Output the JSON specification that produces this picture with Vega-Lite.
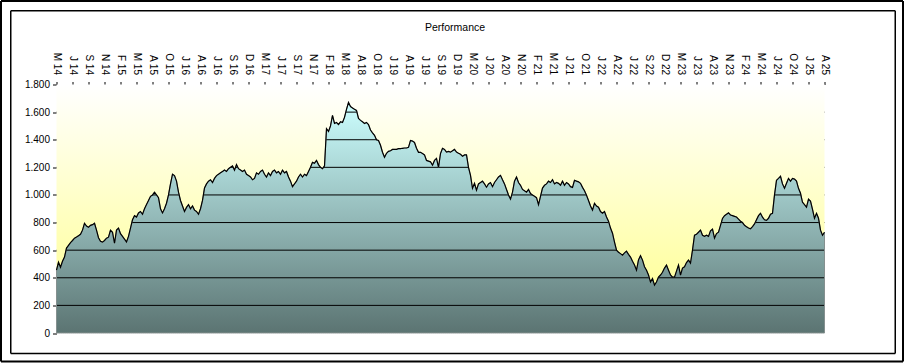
{
  "$schema": "https://vega.github.io/schema/vega-lite/v6.json",
  "autosize": {"type": "none"},
  "width": 768,
  "height": 248.5,
  "padding": {"left": 56.5, "top": 84.5, "right": 81.5, "bottom": 30},
  "background": "white",
  "title": {"text": "Performance", "font": "Liberation Sans", "fontSize": 10.5, "fontWeight": "normal", "color": "black", "anchor": "middle", "frame": "bounds", "baseline": "alphabetic", "offset": -41.5, "dx": 3},
  "config": {
    "view": {"stroke": null},
    "axis": {"labelFont": "Liberation Sans", "labelFontSize": 10, "labelColor": "black", "tickColor": "black", "tickWidth": 1, "domain": false, "grid": false, "title": null, "labelOverlap": false, "labelFlush": false, "labelBound": false}
  },
  "datasets": {
    "perf": [
{"n":0,"v":455},{"n":1,"v":513},{"n":2,"v":477},{"n":3,"v":520},{"n":4,"v":550},{"n":5,"v":615},{"n":6,"v":635},{"n":7,"v":655},{"n":8,"v":670},{"n":9,"v":687},
{"n":10,"v":695},{"n":11,"v":705},{"n":12,"v":715},{"n":13,"v":745},{"n":14,"v":795},{"n":15,"v":775},{"n":16,"v":766},{"n":17,"v":780},{"n":18,"v":785},{"n":19,"v":795},
{"n":20,"v":745},{"n":21,"v":690},{"n":22,"v":665},{"n":23,"v":658},{"n":24,"v":670},{"n":25,"v":687},{"n":26,"v":694},{"n":27,"v":745},{"n":28,"v":730},{"n":29,"v":650},
{"n":30,"v":745},{"n":31,"v":760},{"n":32,"v":720},{"n":33,"v":700},{"n":34,"v":680},{"n":35,"v":660},{"n":36,"v":700},{"n":37,"v":760},{"n":38,"v":820},{"n":39,"v":850},
{"n":40,"v":840},{"n":41,"v":870},{"n":42,"v":880},{"n":43,"v":860},{"n":44,"v":900},{"n":45,"v":930},{"n":46,"v":960},{"n":47,"v":990},{"n":48,"v":1000},{"n":49,"v":1020},
{"n":50,"v":1000},{"n":51,"v":980},{"n":52,"v":900},{"n":53,"v":870},{"n":54,"v":900},{"n":55,"v":940},{"n":56,"v":1000},{"n":57,"v":1080},{"n":58,"v":1150},{"n":59,"v":1140},
{"n":60,"v":1100},{"n":61,"v":1020},{"n":62,"v":960},{"n":63,"v":920},{"n":64,"v":880},{"n":65,"v":910},{"n":66,"v":930},{"n":67,"v":900},{"n":68,"v":920},{"n":69,"v":890},
{"n":70,"v":880},{"n":71,"v":860},{"n":72,"v":900},{"n":73,"v":960},{"n":74,"v":1050},{"n":75,"v":1080},{"n":76,"v":1100},{"n":77,"v":1110},{"n":78,"v":1090},{"n":79,"v":1120},
{"n":80,"v":1140},{"n":81,"v":1150},{"n":82,"v":1160},{"n":83,"v":1170},{"n":84,"v":1180},{"n":85,"v":1170},{"n":86,"v":1190},{"n":87,"v":1200},{"n":88,"v":1210},{"n":89,"v":1180},
{"n":90,"v":1220},{"n":91,"v":1190},{"n":92,"v":1180},{"n":93,"v":1170},{"n":94,"v":1180},{"n":95,"v":1150},{"n":96,"v":1140},{"n":97,"v":1130},{"n":98,"v":1110},{"n":99,"v":1120},
{"n":100,"v":1160},{"n":101,"v":1150},{"n":102,"v":1170},{"n":103,"v":1180},{"n":104,"v":1150},{"n":105,"v":1130},{"n":106,"v":1160},{"n":107,"v":1140},{"n":108,"v":1170},{"n":109,"v":1180},
{"n":110,"v":1160},{"n":111,"v":1170},{"n":112,"v":1150},{"n":113,"v":1180},{"n":114,"v":1160},{"n":115,"v":1170},{"n":116,"v":1130},{"n":117,"v":1100},{"n":118,"v":1060},{"n":119,"v":1080},
{"n":120,"v":1100},{"n":121,"v":1130},{"n":122,"v":1150},{"n":123,"v":1130},{"n":124,"v":1150},{"n":125,"v":1140},{"n":126,"v":1170},{"n":127,"v":1200},{"n":128,"v":1236},{"n":129,"v":1230},
{"n":130,"v":1250},{"n":131,"v":1220},{"n":132,"v":1200},{"n":133,"v":1190},{"n":134,"v":1210},{"n":135,"v":1480},{"n":136,"v":1460},{"n":137,"v":1500},{"n":138,"v":1576},{"n":139,"v":1518},
{"n":140,"v":1525},{"n":141,"v":1510},{"n":142,"v":1530},{"n":143,"v":1525},{"n":144,"v":1562},{"n":145,"v":1620},{"n":146,"v":1670},{"n":147,"v":1640},{"n":148,"v":1630},{"n":149,"v":1620},
{"n":150,"v":1612},{"n":151,"v":1554},{"n":152,"v":1540},{"n":153,"v":1530},{"n":154,"v":1518},{"n":155,"v":1525},{"n":156,"v":1510},{"n":157,"v":1470},{"n":158,"v":1450},{"n":159,"v":1432},
{"n":160,"v":1400},{"n":161,"v":1395},{"n":162,"v":1360},{"n":163,"v":1309},{"n":164,"v":1273},{"n":165,"v":1302},{"n":166,"v":1316},{"n":167,"v":1320},{"n":168,"v":1330},{"n":169,"v":1330},
{"n":170,"v":1330},{"n":171,"v":1335},{"n":172,"v":1335},{"n":173,"v":1338},{"n":174,"v":1340},{"n":175,"v":1340},{"n":176,"v":1345},{"n":177,"v":1395},{"n":178,"v":1390},{"n":179,"v":1380},
{"n":180,"v":1338},{"n":181,"v":1309},{"n":182,"v":1309},{"n":183,"v":1300},{"n":184,"v":1290},{"n":185,"v":1250},{"n":186,"v":1245},{"n":187,"v":1240},{"n":188,"v":1215},{"n":189,"v":1250},
{"n":190,"v":1265},{"n":191,"v":1200},{"n":192,"v":1300},{"n":193,"v":1338},{"n":194,"v":1330},{"n":195,"v":1310},{"n":196,"v":1315},{"n":197,"v":1310},{"n":198,"v":1320},{"n":199,"v":1330},
{"n":200,"v":1310},{"n":201,"v":1302},{"n":202,"v":1295},{"n":203,"v":1280},{"n":204,"v":1290},{"n":205,"v":1290},{"n":206,"v":1200},{"n":207,"v":1142},{"n":208,"v":1048},{"n":209,"v":1084},
{"n":210,"v":1034},{"n":211,"v":1080},{"n":212,"v":1090},{"n":213,"v":1100},{"n":214,"v":1080},{"n":215,"v":1056},{"n":216,"v":1080},{"n":217,"v":1090},{"n":218,"v":1060},{"n":219,"v":1090},
{"n":220,"v":1110},{"n":221,"v":1130},{"n":222,"v":1142},{"n":223,"v":1110},{"n":224,"v":1080},{"n":225,"v":1040},{"n":226,"v":1000},{"n":227,"v":970},{"n":228,"v":1020},{"n":229,"v":1100},
{"n":230,"v":1130},{"n":231,"v":1090},{"n":232,"v":1070},{"n":233,"v":1040},{"n":234,"v":1030},{"n":235,"v":1020},{"n":236,"v":1040},{"n":237,"v":1010},{"n":238,"v":1000},{"n":239,"v":990},
{"n":240,"v":980},{"n":241,"v":930},{"n":242,"v":990},{"n":243,"v":1050},{"n":244,"v":1070},{"n":245,"v":1080},{"n":246,"v":1100},{"n":247,"v":1090},{"n":248,"v":1110},{"n":249,"v":1080},
{"n":250,"v":1090},{"n":251,"v":1084},{"n":252,"v":1070},{"n":253,"v":1100},{"n":254,"v":1070},{"n":255,"v":1090},{"n":256,"v":1080},{"n":257,"v":1060},{"n":258,"v":1055},{"n":259,"v":1106},
{"n":260,"v":1100},{"n":261,"v":1095},{"n":262,"v":1084},{"n":263,"v":1055},{"n":264,"v":1030},{"n":265,"v":998},{"n":266,"v":960},{"n":267,"v":920},{"n":268,"v":890},{"n":269,"v":940},
{"n":270,"v":920},{"n":271,"v":911},{"n":272,"v":880},{"n":273,"v":867},{"n":274,"v":880},{"n":275,"v":840},{"n":276,"v":810},{"n":277,"v":760},{"n":278,"v":723},{"n":279,"v":658},
{"n":280,"v":600},{"n":281,"v":585},{"n":282,"v":575},{"n":283,"v":564},{"n":284,"v":580},{"n":285,"v":593},{"n":286,"v":570},{"n":287,"v":550},{"n":288,"v":520},{"n":289,"v":492},
{"n":290,"v":455},{"n":291,"v":530},{"n":292,"v":560},{"n":293,"v":528},{"n":294,"v":480},{"n":295,"v":455},{"n":296,"v":420},{"n":297,"v":369},{"n":298,"v":395},{"n":299,"v":347},
{"n":300,"v":369},{"n":301,"v":405},{"n":302,"v":420},{"n":303,"v":440},{"n":304,"v":470},{"n":305,"v":492},{"n":306,"v":455},{"n":307,"v":420},{"n":308,"v":405},{"n":309,"v":405},
{"n":310,"v":448},{"n":311,"v":492},{"n":312,"v":419},{"n":313,"v":470},{"n":314,"v":480},{"n":315,"v":510},{"n":316,"v":528},{"n":317,"v":506},{"n":318,"v":600},{"n":319,"v":708},
{"n":320,"v":715},{"n":321,"v":730},{"n":322,"v":745},{"n":323,"v":708},{"n":324,"v":700},{"n":325,"v":708},{"n":326,"v":700},{"n":327,"v":740},{"n":328,"v":752},{"n":329,"v":687},
{"n":330,"v":720},{"n":331,"v":730},{"n":332,"v":780},{"n":333,"v":830},{"n":334,"v":850},{"n":335,"v":860},{"n":336,"v":870},{"n":337,"v":855},{"n":338,"v":850},{"n":339,"v":845},
{"n":340,"v":840},{"n":341,"v":825},{"n":342,"v":810},{"n":343,"v":800},{"n":344,"v":780},{"n":345,"v":770},{"n":346,"v":760},{"n":347,"v":755},{"n":348,"v":770},{"n":349,"v":790},
{"n":350,"v":820},{"n":351,"v":850},{"n":352,"v":867},{"n":353,"v":839},{"n":354,"v":820},{"n":355,"v":816},{"n":356,"v":831},{"n":357,"v":860},{"n":358,"v":867},{"n":359,"v":1000},
{"n":360,"v":1106},{"n":361,"v":1120},{"n":362,"v":1135},{"n":363,"v":1080},{"n":364,"v":1048},{"n":365,"v":1084},{"n":366,"v":1120},{"n":367,"v":1100},{"n":368,"v":1120},{"n":369,"v":1115},
{"n":370,"v":1100},{"n":371,"v":1048},{"n":372,"v":1012},{"n":373,"v":947},{"n":374,"v":930},{"n":375,"v":911},{"n":376,"v":969},{"n":377,"v":955},{"n":378,"v":896},{"n":379,"v":831},
{"n":380,"v":867},{"n":381,"v":831},{"n":382,"v":745},{"n":383,"v":708},{"n":384,"v":730}
    ],
    "grid": [{"g":200},{"g":400},{"g":600},{"g":800},{"g":1000},{"g":1200},{"g":1400},{"g":1600}],
    "frames": [
      {"x1": -27.75, "x2": 423.25, "y1": 2404.8, "y2": 2404.8, "w": "outer"},
      {"x1": -27.75, "x2": 423.25, "y1": -206.4, "y2": -206.4, "w": "outer"},
      {"x1": -27.75, "x2": -27.75, "y1": -206.4, "y2": 2404.8, "w": "outer"},
      {"x1": 423.25, "x2": 423.25, "y1": -206.4, "y2": 2404.8, "w": "outer"},
      {"x1": -22.875, "x2": 419.375, "y1": 2334.2, "y2": 2334.2, "w": "inner"},
      {"x1": -22.875, "x2": 419.375, "y1": -148.5, "y2": -148.5, "w": "inner"},
      {"x1": -22.875, "x2": -22.875, "y1": -148.5, "y2": 2334.2, "w": "inner"},
      {"x1": 419.375, "x2": 419.375, "y1": -148.5, "y2": 2334.2, "w": "inner"}
    ]
  },
  "encoding": {
    "x": {"field": "n", "type": "quantitative",
      "scale": {"domain": [0, 384], "nice": false, "zero": false},
      "axis": {"orient": "top", "values": [0,8,16,24,32,40,48,56,64,72,80,88,96,104,112,120,128,136,144,152,160,168,176,184,192,200,208,216,224,232,240,248,256,264,272,280,288,296,304,312,320,328,336,344,352,360,368,376,384],
        "labelExpr": "['M 14','J 14','S 14','N 14','F 15','M 15','A 15','O 15','J 16','A 16','J 16','S 16','D 16','M 17','J 17','S 17','N 17','F 18','M 18','A 18','O 18','J 19','A 19','J 19','S 19','D 19','M 20','J 20','A 20','N 20','F 21','M 21','J 21','O 21','J 22','A 22','J 22','S 22','D 22','M 23','J 23','A 23','N 23','F 24','M 24','J 24','O 24','J 25','A 25'][datum.value / 8]",
        "labelAngle": 90, "labelAlign": "right", "labelBaseline": "middle", "tickSize": 3, "labelPadding": 7}},
    "y": {"field": "v", "type": "quantitative",
      "scale": {"domain": [0, 1800], "nice": false, "zero": true},
      "axis": {"orient": "left", "values": [0,200,400,600,800,1000,1200,1400,1600,1800],
        "labelExpr": "replace(format(datum.value, ','), ',', '.')", "tickSize": 4, "labelPadding": 3}}
  },
  "layer": [
    {"data": {"name": "perf"},
     "mark": {"type": "area", "fill": {"gradient": "linear", "x1": 0, "y1": 0, "x2": 0, "y2": 1, "stops": [{"offset": 0, "color": "#ccffff"}, {"offset": 1, "color": "#5b7472"}]}, "strokeWidth": 0}},
    {"data": {"name": "grid"},
     "mark": {"type": "rule", "color": "black", "strokeWidth": 1},
     "encoding": {"x": null, "y": {"field": "g", "type": "quantitative"}}},
    {"data": {"name": "perf"},
     "mark": {"type": "area", "fill": {"gradient": "linear", "x1": 0, "y1": 0, "x2": 0, "y2": 1, "stops": [{"offset": 0, "color": "#ffffff"}, {"offset": 1, "color": "#ffff9f"}]}, "strokeWidth": 0},
     "encoding": {"y2": {"datum": 1800}}},
    {"data": {"name": "grid"},
     "mark": {"type": "rule", "color": "black", "strokeWidth": 1},
     "encoding": {"x": null, "y": {"datum": 1800}}},
    {"data": {"name": "grid"},
     "mark": {"type": "rule", "color": "black", "strokeWidth": 1},
     "encoding": {"x": {"datum": 384}, "y": null}},
    {"data": {"name": "perf"},
     "mark": {"type": "area", "fillOpacity": 0, "stroke": "#85908f", "strokeWidth": 1}},
    {"data": {"name": "grid"},
     "mark": {"type": "rule", "color": "black", "strokeWidth": 1},
     "encoding": {"x": {"datum": 0}, "y": null}},
    {"data": {"name": "perf"},
     "mark": {"type": "line", "color": "black", "strokeWidth": 1.2}},
    {"data": {"name": "frames"},
     "mark": {"type": "rule", "color": "black"},
     "encoding": {
       "x": {"field": "x1", "type": "quantitative"},
       "x2": {"field": "x2"},
       "y": {"field": "y1", "type": "quantitative"},
       "y2": {"field": "y2"},
       "strokeWidth": {"field": "w", "type": "nominal", "scale": {"domain": ["outer", "inner"], "range": [2, 1.5]}, "legend": null}
     }}
  ]
}
